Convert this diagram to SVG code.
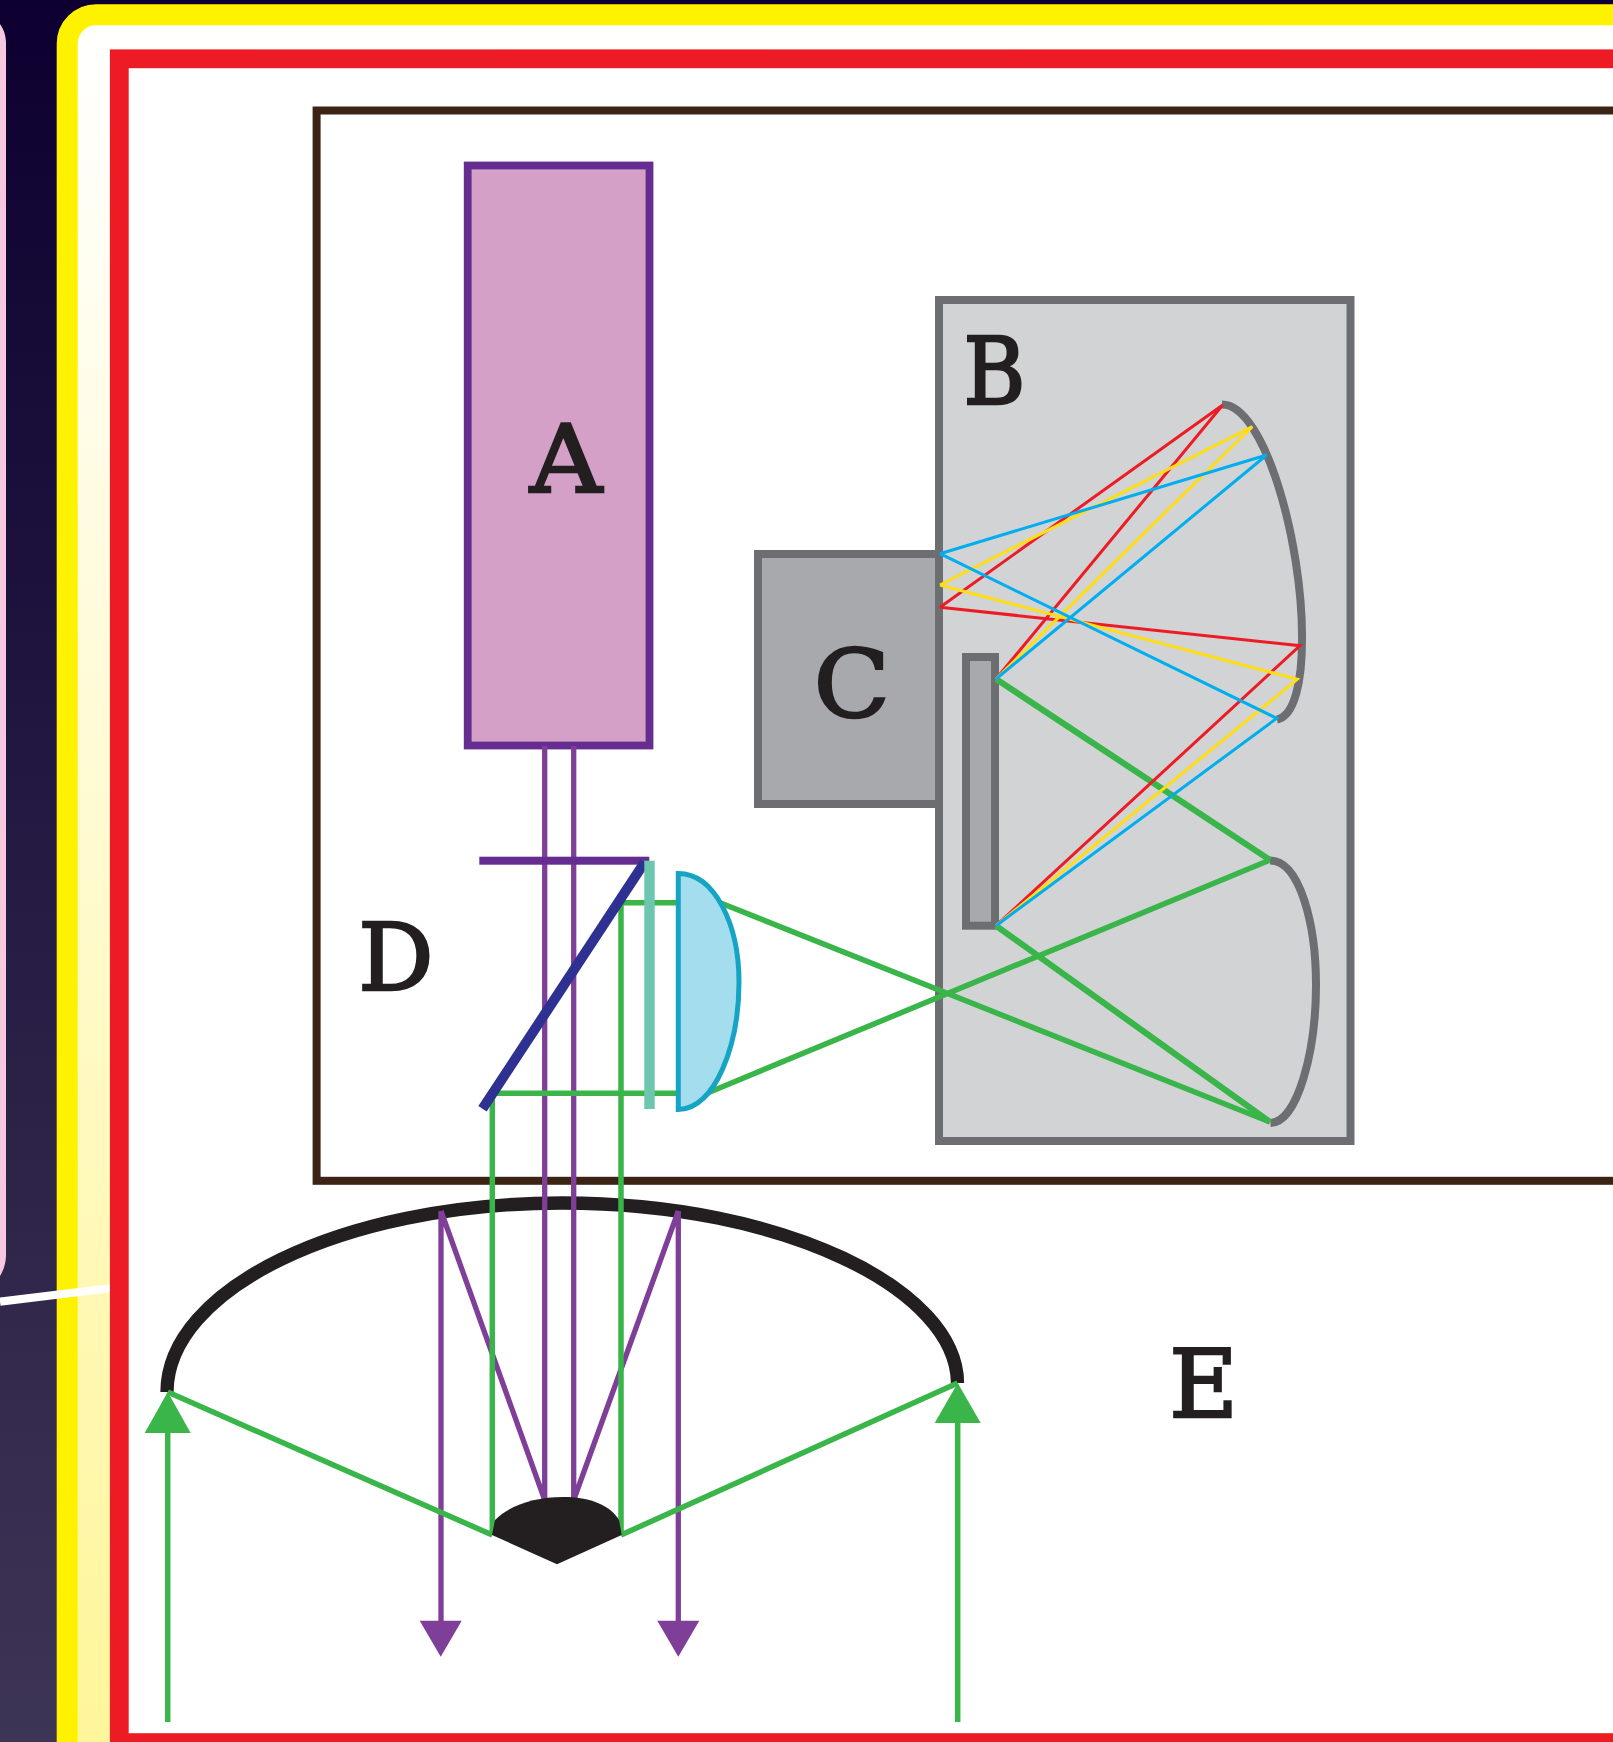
<svg xmlns="http://www.w3.org/2000/svg" width="1613" height="1742" viewBox="0 0 1613 1742">
<style>
.lbl{font-family:"DejaVu Serif","Liberation Serif",serif;font-size:94px;fill:#231f20;stroke:#231f20;stroke-width:2.6;text-anchor:middle}
.gy{fill:#d1d3d4;stroke:#6d6e71;stroke-width:8}
.mid{fill:#a7a9ac;stroke:#6d6e71;stroke-width:8}
.mir{fill:none;stroke:#6d6e71;stroke-width:8}
.gr{stroke:#39b54a;stroke-width:5.5;fill:none}
.gr6{stroke:#39b54a;stroke-width:6.2;fill:none}
.pu{stroke:#7f3f98;stroke-width:5.3;fill:none}
.r{stroke:#ed1c24;stroke-width:3;fill:none}
.y{stroke:#ffde17;stroke-width:3;fill:none}
.b{stroke:#00aeef;stroke-width:3;fill:none}
</style>
<defs>
<linearGradient id="night" x1="0" y1="0" x2="0" y2="1"><stop offset="0" stop-color="#0d0030"/><stop offset="1" stop-color="#3d3555"/></linearGradient>
<linearGradient id="glow" x1="0" y1="0" x2="0" y2="1"><stop offset="0" stop-color="#ffffff"/><stop offset="1" stop-color="#fff596"/></linearGradient>
</defs>
<g id="background">
<rect x="0" y="0" width="1613" height="1742" fill="url(#night)"/>
<path d="M0 24 C4 30 6 36 6 44 L6 1255 C6 1264 3 1271 0 1276 Z" fill="#f7c9e0"/>
</g>
<g id="outer-frame">
<rect x="67.2" y="14.7" width="1600" height="1800" rx="29" fill="url(#glow)" stroke="#fff200" stroke-width="21"/>
</g>
<line x1="0" y1="1301.7" x2="112" y2="1288" stroke="#fff" stroke-width="8.3"/>
<g id="inner-frame">
<rect x="119.3" y="58.8" width="1600" height="1683.8" fill="#fff" stroke="#ed1c24" stroke-width="18.8"/>
</g>
<g id="housing">
<rect x="316.6" y="110.5" width="1400" height="1070.3" fill="none" stroke="#3c2415" stroke-width="8"/>
</g>
<g id="node-A">
<rect x="467.7" y="165.5" width="181.8" height="580" fill="#d5a0c8" stroke="#662d91" stroke-width="7.8"/>
</g>
<g id="node-B">
<rect class="gy" x="939" y="300" width="411.5" height="841"/>
<path class="mir" d="M1222 404.5 C1265 404.5 1303 545 1302 640 C1302 680 1295 716 1277 719.5"/>
<path class="mir" d="M1270 860.5 C1300 860.5 1316 925 1316 985 C1316 1050 1298 1122 1270.5 1123"/>
</g>
<g id="node-C">
<rect class="mid" x="758" y="554" width="181" height="250"/>
</g>
<g id="grating">
<rect class="mid" x="966" y="657" width="29" height="268.7"/>
</g>
<g id="mirror-E">
<path d="M167 1392 C167 1290 340 1203 562 1203 C785 1203 957 1290 957.5 1383" fill="none" stroke="#231f20" stroke-width="13.3"/>
</g>
<g id="connectors">
<path class="pu" d="M544.7 746V1500M573.7 746V1500M441 1211L544.7 1500M678.3 1211L573.7 1500M441 1211V1625M678.3 1211V1625"/>
<path class="gr" d="M492.3 1093.3H677M621 902.7H677M492.3 1093.3V1535M621 902.7V1535M720 902.7L1270 1122M708 1092.7L1270 860M167.7 1392L492.3 1535M957.7 1383L621 1535M167.7 1722V1430M957.7 1722V1420"/>
<path class="gr6" d="M996 679L1270 860M996 925.7L1270 1122"/>
<path class="r" d="M940 607.3L1222.7 405L996 679M940 607.3L1300 645.7L996 925.7"/>
<path class="y" d="M940 585L1252.3 426.7L996 679M940 585L1297.3 679.3L996 925.7"/>
<path class="b" d="M940 553.7L1266.7 455L996 679M940 553.7L1276.7 718.3L996 925.7"/>
<polygon points="419.7,1620.7 461.7,1620.7 440.7,1656.7" fill="#7f3f98"/>
<polygon points="657.3,1620.7 699.3,1620.7 678.3,1656.7" fill="#7f3f98"/>
<polygon points="144.7,1433 190.7,1433 167.7,1392" fill="#39b54a"/>
<polygon points="934.7,1423 980.7,1423 957.7,1383" fill="#39b54a"/>
</g>
<g id="node-D">
<rect x="479.3" y="856.7" width="170" height="8" fill="#662d91"/>
<line x1="644.8" y1="862" x2="482.5" y2="1108.8" stroke="#2e3192" stroke-width="10"/>
<rect x="644.3" y="860.7" width="10.4" height="248.3" fill="#6ec6ae"/>
<path d="M678.3 873.5 C715 873.5 739 925 739 982 C739 1045 715 1109.5 678.3 1109.5 Z" fill="#a4dded" stroke="#15a4c4" stroke-width="5"/>
</g>
<g id="sample">
<path d="M492 1535 L495 1520 C510 1505 535 1497 563 1497 C590 1497 610 1505 619 1520 L621.7 1535 L557 1564.3 Z" fill="#231f20"/>
</g>
<g id="labels">
<text class="lbl" x="566" y="492" textLength="72" lengthAdjust="spacingAndGlyphs">A</text>
<text class="lbl" x="994.5" y="403.5" textLength="62" lengthAdjust="spacingAndGlyphs">B</text>
<text class="lbl" x="851.7" y="717" textLength="76" lengthAdjust="spacingAndGlyphs">C</text>
<text class="lbl" x="396" y="990">D</text>
<text class="lbl" x="1203.5" y="1416.5">E</text>
</g>
</svg>
